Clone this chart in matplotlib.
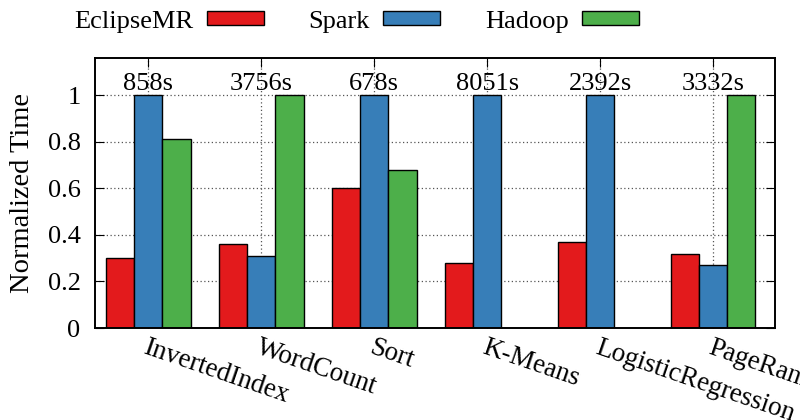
import matplotlib
matplotlib.use("Agg")
import matplotlib.pyplot as plt
import numpy as np
from matplotlib.patches import Patch

categories = ["InvertedIndex", "WordCount", "Sort", "K-Means", "LogisticRegression", "PageRank"]
times = ["858s", "3756s", "678s", "8051s", "2392s", "3332s"]
series_names = ["EclipseMR", "Spark", "Hadoop"]
eclipsemr = [0.30, 0.36, 0.60, 0.28, 0.37, 0.32]
spark = [1.0, 0.31, 1.0, 1.0, 1.0, 0.27]
hadoop = [0.81, 1.0, 0.68, np.nan, np.nan, 1.0]
colors = ["#e31a1c", "#377eb8", "#4daf4a"]

plt.rcParams['font.family'] = ['Liberation Serif', 'DejaVu Serif']
FS = 19

fig = plt.figure(figsize=(8, 4.2), dpi=100)
ax = fig.add_axes([0.119, 0.219, 0.85, 0.643])

x = np.arange(len(categories))
w = 0.25
for k, (vals, c) in enumerate(zip([eclipsemr, spark, hadoop], colors)):
    ax.bar(x + (k - 1) * w, vals, width=w, color=c, edgecolor='black', linewidth=1.0,
           label=series_names[k], zorder=2)

ax.set_xlim(-0.47, 5.55)
ax.set_ylim(0, 1.16)
ax.set_yticks([0, 0.2, 0.4, 0.6, 0.8, 1.0])
ax.set_yticklabels(["0", "0.2", "0.4", "0.6", "0.8", "1"], fontsize=FS)
ax.set_xticks(x)
ax.set_xticklabels(categories, rotation=-19, ha='left', va='top', rotation_mode='anchor', fontsize=FS + 0.5)
ax.tick_params(axis='x', which='both', direction='in', top=True, bottom=True, length=6.5, pad=5)
ax.tick_params(axis='y', which='both', direction='in', left=True, right=True, length=6.5, pad=10.5)
ax.set_axisbelow(True)
ax.grid(True, linestyle=(0, (1, 2)), color='#555555', linewidth=0.9)
for s in ax.spines.values():
    s.set_linewidth(1.4)

for i, t in enumerate(times):
    ax.text(x[i], 1.0, t, ha='center', va='bottom', fontsize=FS, zorder=3)

ax.set_ylabel("Normalized Time", fontsize=FS + 1.5, labelpad=9)

handles = [Patch(facecolor=c, edgecolor='black', linewidth=1.0) for c in colors]
fig.legend(handles, series_names, loc='upper left', bbox_to_anchor=(0.08, 1.0), ncol=3,
           markerfirst=False, frameon=False, handlelength=2.16, handleheight=0.4,
           columnspacing=1.7, handletextpad=0.5, fontsize=FS, borderaxespad=0.0)

fig.savefig("out.png", dpi=100)
